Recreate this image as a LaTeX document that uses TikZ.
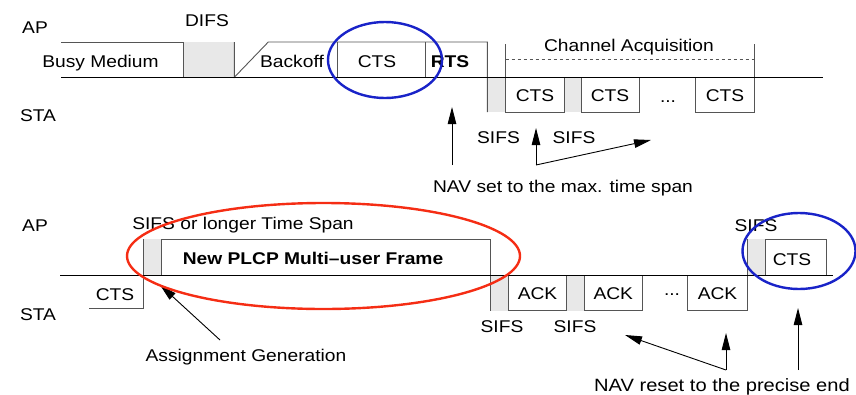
\documentclass[tikz,border=0pt]{standalone}
\usepackage{fontspec}
\setmainfont[FakeStretch=1.13]{Liberation Sans}
\usetikzlibrary{arrows.meta}
\definecolor{cellgray}{RGB}{232,232,232}
\definecolor{edgegray}{RGB}{85,85,85}
\definecolor{ringblue}{RGB}{25,35,200}
\definecolor{ringred}{RGB}{245,45,20}
\begin{document}
\begin{tikzpicture}[x=1pt,y=-1pt,
  lbl/.style={font=\fontsize{17}{20}\selectfont, inner sep=0pt, anchor=base},
  bold/.style={lbl, font=\fontsize{17}{20}\selectfont\bfseries},
  shade/.style={fill=cellgray, draw=none},
  frame/.style={draw=edgegray, line width=0.9pt},
  axis/.style={draw=black, line width=0.9pt},
  arr/.style={draw=black, line width=0.9pt, -{Triangle[length=17pt,width=8.5pt]}},
  ring/.style={line width=2.4pt}]
\useasboundingbox (0,0) rectangle (856,394);

% ---------- upper sequence: channel acquisition ----------
% shaded inter-frame spaces
\fill[shade] (183,42) rectangle (234.3,77.3);
\fill[shade] (487.7,77.3) rectangle (505.7,112);
\fill[shade] (564,77.3) rectangle (581,112);

% AP side: busy medium, DIFS, backoff, CTS, RTS
\draw[frame] (61,42) -- (183,42) -- (183,77.3);
\draw[frame] (234.3,42) -- (234.3,77.3) -- (268.3,42) -- (487.3,42) -- (487.3,112);
\draw[frame] (337.7,42) -- (337.7,77.3);
\draw[frame] (425,42) -- (425,77.3);

% STA side: CTS replies
\draw[frame] (505.7,44) -- (505.7,112) -- (564,112) -- (564,77.3);
\draw[frame] (581,77.3) -- (581,112) -- (639.3,112) -- (639.3,77.3);
\draw[frame] (695.7,77.3) -- (695.7,112) -- (754,112) -- (754,44);
\draw[frame, dashed] (505.7,59.3) -- (754,59.3);

% time axis
\draw[axis] (61,77.3) -- (823,77.3);

\node[lbl] (apA) at (35,33) {AP};
\node[lbl] (staA) at (38,121) {STA};
\node[lbl] (difs) at (207,26) {DIFS};
\node[lbl] (busy) at (100.5,67) {Busy Medium};
\node[lbl] (backoff) at (292,67) {Backoff};
\node[lbl] (ctsA) at (377,67) {CTS};
\node[bold] (rts) at (450,67) {RTS};
\node[lbl] (chacq) at (629,51) {Channel Acquisition};
\node[lbl] (ctsB) at (535,101.5) {CTS};
\node[lbl] (ctsC) at (610,101.5) {CTS};
\node[lbl] (dotsA) at (668,102) {...};
\node[lbl] (ctsD) at (725,101.5) {CTS};
\node[lbl] (sifsA) at (498.5,143) {SIFS};
\node[lbl] (sifsB) at (574,143) {SIFS};
\node[lbl] (navset) at (563,192) {NAV set to the max. time span};

\coordinate (navTail) at (452,165);
\coordinate (navTip) at (452,107);
\coordinate (sifsCorner) at (536,165);
\coordinate (sifsUp) at (536,128);
\coordinate (sifsRight) at (651,140);
\draw[arr] (navTail) -- (navTip);
\draw[arr] (sifsCorner) -- (sifsUp);
\draw[arr] (sifsCorner) -- (sifsRight);

% ---------- lower sequence: multi-user frame ----------
\fill[shade] (143.3,239.3) rectangle (161.3,275.3);
\fill[shade] (490.7,275.3) rectangle (508.3,310.5);
\fill[shade] (566.7,275.3) rectangle (584,310.5);
\fill[shade] (747.3,239.3) rectangle (765.7,275.3);

% CTS from STA, then the PLCP frame from AP
\draw[frame] (89,308) -- (143.3,308) -- (143.3,239.3);
\draw[frame] (161.3,275.3) -- (161.3,239.3) -- (490.7,239.3) -- (490.7,310.5);

% ACK replies
\draw[frame] (508.3,275.3) -- (508.3,310.5) -- (566.7,310.5) -- (566.7,275.3);
\draw[frame] (584,275.3) -- (584,310.5) -- (642.7,310.5) -- (642.7,275.3);
\draw[frame] (687.7,275.3) -- (687.7,310.5) -- (747.3,310.5) -- (747.3,239.3);

% closing CTS from AP
\draw[frame] (765.7,275.3) -- (765.7,239.3) -- (826.7,239.3) -- (826.7,275.3);

% time axis
\draw[axis] (60,275.3) -- (833,275.3);

\node[lbl] (apB) at (35,231) {AP};
\node[lbl] (staB) at (38,320) {STA};
\node[lbl] (sifsLong) at (243,229) {SIFS or longer Time Span};
\node[bold] (plcp) at (313,264) {New PLCP Multi–user Frame};
\node[lbl] (ctsE) at (115,300) {CTS};
\node[lbl] (ack1) at (537.5,299) {ACK};
\node[lbl] (ack2) at (613.3,299) {ACK};
\node[lbl] (dotsB) at (672,295) {...};
\node[lbl] (ack3) at (717.5,299) {ACK};
\node[lbl] (sifsC) at (502,332) {SIFS};
\node[lbl] (sifsD) at (575,332) {SIFS};
\node[lbl] (sifsE) at (756,231) {SIFS};
\node[lbl] (ctsF) at (792,265) {CTS};
\node[lbl] (assign) at (246,361) {Assignment Generation};
\node[lbl, font=\fontsize{17.8}{20}\selectfont] (navreset) at (722,391) {NAV reset to the precise end};

\coordinate (assignTail) at (220,340);
\coordinate (assignTip) at (160,285);
\coordinate (resetCorner) at (726,370);
\coordinate (resetUp) at (726,333);
\coordinate (resetLeft) at (625,335);
\coordinate (endTail) at (798,370);
\coordinate (endTip) at (798,308);
\draw[arr] (assignTail) -- (assignTip);
\draw[arr] (resetCorner) -- (resetUp);
\draw[arr] (resetCorner) -- (resetLeft);
\draw[arr] (endTail) -- (endTip);

% highlight rings
\draw[ring, ringblue] (385,60) ellipse [x radius=57, y radius=38];
\draw[ring, ringred] (323.5,256) ellipse [x radius=196.5, y radius=53];
\draw[ring, ringblue] (799,251) ellipse [x radius=56.5, y radius=38];
\end{tikzpicture}
\end{document}
